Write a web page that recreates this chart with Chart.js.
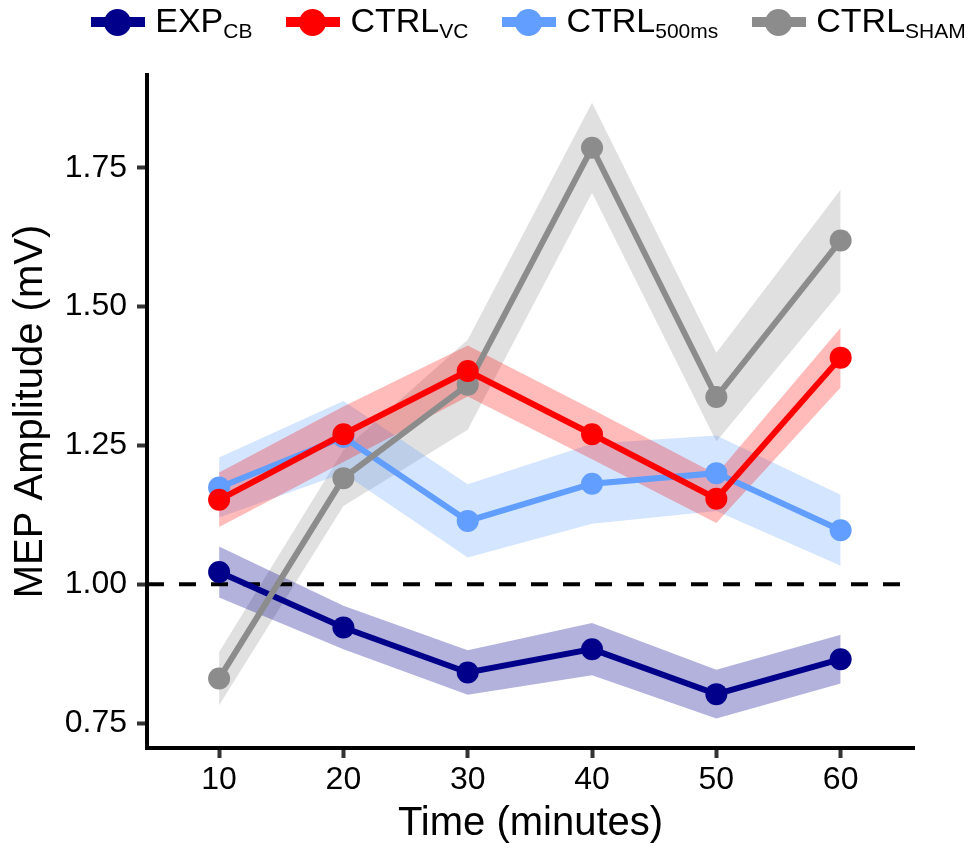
<!DOCTYPE html>
<html>
<head>
<meta charset="utf-8">
<script src="https://cdn.jsdelivr.net/npm/chart.js@4.4.1/dist/chart.umd.min.js"></script>
<style>
  body { margin: 0; background: #fff; font-family: "Liberation Sans", Arial, sans-serif; }
  #wrap { position: relative; width: 972px; height: 850px; }
  #legend {
    position: absolute; left: 145px; width: 767px; top: 5px; height: 34px;
    display: flex; justify-content: center; align-items: center; gap: 34px;
  }
  .item { display: flex; align-items: center; gap: 10px; }
  .swatch { position: relative; width: 54px; height: 27px; }
  .swatch .bar { position: absolute; left: 0; right: 0; top: 8px; height: 10px; }
  .swatch .dot { position: absolute; left: 13px; top: 0; width: 27px; height: 27px; border-radius: 50%; }
  .label { font-size: 34px; line-height: 34px; color: #000; white-space: nowrap; }
  .label span { font-size: 21px; position: relative; top: 6px; }
</style>
</head>
<body>
<div id="wrap">
  <canvas id="chartMEP" width="972" height="850"></canvas>
  <div id="legend"></div>
</div>
<script>
// --- Datos (amplitud MEP media y error por minuto) ---
const timePoints = [10, 20, 30, 40, 50, 60];

const expCB = [1.022, 0.922, 0.841, 0.883, 0.802, 0.865];
const expCBErr = [0.046, 0.039, 0.040, 0.047, 0.044, 0.044];

const ctrlVC = [1.152, 1.270, 1.384, 1.270, 1.154, 1.408];
const ctrlVCErr = [0.049, 0.050, 0.046, 0.045, 0.044, 0.054];

const ctrl500 = [1.174, 1.265, 1.114, 1.181, 1.200, 1.097];
const ctrl500Err = [0.054, 0.065, 0.066, 0.072, 0.068, 0.064];

const ctrlSham = [0.830, 1.191, 1.359, 1.786, 1.337, 1.619];
const ctrlShamErr = [0.048, 0.050, 0.081, 0.081, 0.080, 0.092];

const yTicks = [0.75, 1.00, 1.25, 1.50, 1.75];
const xRange = [4.2, 65.9];
const yRange = [0.705, 1.917];
const baseline = 1.0;

// --- Series: nombre, sufijo (subíndice), color ---
const series = [
  { name: "EXP", sub: "CB", values: expCB, err: expCBErr, color: "#00008B", band: "rgba(0,0,139,0.30)", order: 4 },
  { name: "CTRL", sub: "VC", values: ctrlVC, err: ctrlVCErr, color: "#FF0000", band: "rgba(255,0,0,0.27)", order: 1 },
  { name: "CTRL", sub: "500ms", values: ctrl500, err: ctrl500Err, color: "#619EFF", band: "rgba(97,158,255,0.27)", order: 3 },
  { name: "CTRL", sub: "SHAM", values: ctrlSham, err: ctrlShamErr, color: "#8C8C8C", band: "rgba(140,140,140,0.27)", order: 2 },
];

const el = (id) => document.getElementById(id);
const toXY = (vals) => vals.map((v, i) => ({ x: timePoints[i], y: v }));

// Bandas de error (superior + inferior con relleno entre ambas) y líneas
const datasets = [];
series.forEach((s) => {
  datasets.push({
    data: toXY(s.values.map((v, i) => v + s.err[i])),
    borderWidth: 0, borderColor: "transparent", pointRadius: 0, fill: false, order: 100,
  });
  datasets.push({
    data: toXY(s.values.map((v, i) => v - s.err[i])),
    borderWidth: 0, borderColor: "transparent", pointRadius: 0,
    fill: "-1", backgroundColor: s.band, order: 100,
  });
});

// línea de referencia en 1.00
datasets.push({
  data: [{ x: xRange[0], y: baseline }, { x: xRange[1], y: baseline }],
  borderColor: "#000", borderWidth: 4, borderDash: [17, 15], pointRadius: 0, fill: false, order: 50,
});

series.forEach((s) => {
  datasets.push({
    data: toXY(s.values),
    borderColor: s.color, borderWidth: 6,
    pointRadius: 11, pointBackgroundColor: s.color, pointBorderWidth: 0,
    fill: false, order: s.order,
  });
});

// --- Leyenda HTML (para los subíndices) ---
el("legend").innerHTML = series.map((s) => `
  <div class="item">
    <div class="swatch"><div class="bar" style="background:${s.color}"></div><div class="dot" style="background:${s.color}"></div></div>
    <div class="label">${s.name}<span>${s.sub}</span></div>
  </div>`).join("");

Chart.defaults.font.family = '"Liberation Sans", Arial, sans-serif';
Chart.defaults.color = "#000";

new Chart(el("chartMEP").getContext("2d"), {
  type: "line",
  data: { datasets },
  options: {
    responsive: false,
    animation: false,
    devicePixelRatio: 1,
    layout: { padding: { top: 75, right: 58, bottom: 0, left: 0 } },
    elements: { line: { tension: 0 } },
    plugins: {
      legend: { display: false },
      tooltip: { enabled: false },
      filler: { drawTime: "beforeDatasetsDraw" },
    },
    scales: {
      x: {
        type: "linear",
        min: xRange[0], max: xRange[1],
        afterBuildTicks: (s) => { s.ticks = timePoints.map((v) => ({ value: v })); },
        afterFit: (s) => { s.height = 102; },
        border: { color: "#000", width: 4 },
        grid: { drawOnChartArea: false, tickLength: 10, tickColor: "#333", tickWidth: 4 },
        ticks: { font: { size: 32 }, color: "#000", padding: 3, maxRotation: 0 },
        title: { display: true, text: "Time (minutes)", font: { size: 40 }, color: "#000", padding: { top: 0, bottom: 2 } },
      },
      y: {
        type: "linear",
        min: yRange[0], max: yRange[1],
        afterBuildTicks: (s) => { s.ticks = yTicks.map((v) => ({ value: v })); },
        afterFit: (s) => { s.width = 147; },
        border: { color: "#000", width: 4 },
        grid: { drawOnChartArea: false, tickLength: 10, tickColor: "#333", tickWidth: 4 },
        ticks: { font: { size: 32 }, color: "#000", padding: 10, callback: (v) => v.toFixed(2) },
        title: { display: true, text: "MEP Amplitude (mV)", font: { size: 40 }, color: "#000", padding: { top: 7, bottom: 0 } },
      },
    },
  },
});
</script>
</body>
</html>
